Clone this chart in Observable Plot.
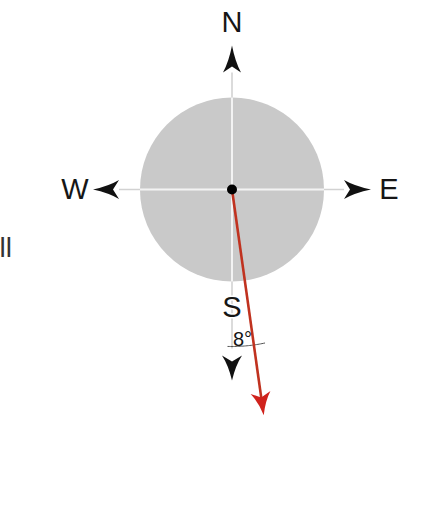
<!DOCTYPE html>
<html>
<head>
<meta charset="utf-8">
<script src="https://cdn.jsdelivr.net/npm/d3@7"></script>
<script src="https://cdn.jsdelivr.net/npm/@observablehq/plot@0.6"></script>
<style>
  html, body { margin: 0; padding: 0; background: #ffffff; }
  #chart svg { display: block; }
</style>
</head>
<body>
<div id="chart"></div>
<script>
// ---- data ----
const directions = ["N", "E", "S", "W"];
const bearings = [0, 90, 180, 270];          // compass bearings (deg)
const deviation = 8;                          // vector deviation east of south (deg)
const deviationLabel = "8°";
const sideNote = "ll";

// ---- layout (code, not data) ----
const W = 428, H = 527;
const R = 92;                                  // disc radius
const labelDist = {N: 167, E: 157, S: 118, W: 157};
const tipDist   = {N: 144, E: 139, S: 191, W: 139};
const dartDims  = {N: [27, 9, 6], E: [27, 9.5, 6], S: [25, 10, 6], W: [26, 9.5, 6]};
const lineEnd   = {N: 117, E: 112, S: 159, W: 113};
const vecBearing = 180 - deviation;
const vecLen = 228;
const rad = Math.PI / 180;
const polar = (b, d) => ({x: d * Math.sin(b * rad), y: d * Math.cos(b * rad)});

function dart(angle, L, w, n) {
  const a = angle * rad, c = Math.cos(a), s = Math.sin(a);
  const rot = ([x, y]) => [x * c - y * s, x * s + y * c];
  return {
    draw(ctx) {
      const P = [[0, 0], [w * 0.35, L * 0.6], [w, L], [0, L - n], [-w, L], [-w * 0.35, L * 0.6]].map(rot);
      ctx.moveTo(...P[0]);
      ctx.quadraticCurveTo(...P[1], ...P[2]);
      ctx.lineTo(...P[3]);
      ctx.lineTo(...P[4]);
      ctx.quadraticCurveTo(...P[5], ...P[0]);
      ctx.closePath();
    }
  };
}

const dirs = directions.map((d, i) => ({dir: d, bearing: bearings[i]}));
const outerLines = dirs.map(d => ({...d, a: polar(d.bearing, 0), b: polar(d.bearing, lineEnd[d.dir])}));
const innerLines = dirs.map(d => ({...d, a: polar(d.bearing, 0), b: polar(d.bearing, R)}));
const labels = dirs.map(d => ({text: d.dir, ...polar(d.bearing, labelDist[d.dir])}));
const arc = d3.range(181.5, 167.5, -0.5).map(b => polar(b, 157));
const vecTip = polar(vecBearing, vecLen);
const vecShaftEnd = polar(vecBearing, vecLen - 14);
const center = [{x: 0, y: 0}];

const font = "'Liberation Sans', Arial, sans-serif";

const marks = [
  Plot.dot(center, {x: "x", y: "y", r: R, fill: "#c9c9c9", stroke: "none"}),
  Plot.link(outerLines, {x1: d => d.a.x, y1: d => d.a.y, x2: d => d.b.x, y2: d => d.b.y, stroke: "#d2d2d2", strokeWidth: 1.6}),
  Plot.link(innerLines, {x1: d => d.a.x, y1: d => d.a.y, x2: d => d.b.x, y2: d => d.b.y, stroke: "#f3f3f3", strokeWidth: 2}),
  Plot.line(arc, {x: "x", y: "y", stroke: "#555", strokeWidth: 1, curve: "linear"}),
  ...dirs.map(d => {
    const [L, w, n] = dartDims[d.dir];
    return Plot.dot([polar(d.bearing, tipDist[d.dir])], {x: "x", y: "y", symbol: dart(d.bearing, L, w, n), fill: "#111", stroke: "none"});
  }),
  Plot.link([{a: center[0], b: vecShaftEnd}], {x1: d => d.a.x, y1: d => d.a.y, x2: d => d.b.x, y2: d => d.b.y, stroke: "#c0321f", strokeWidth: 2.6}),
  Plot.dot([vecTip], {x: "x", y: "y", symbol: dart(vecBearing, 23, 10, 5), fill: "#d0221c", stroke: "none"}),
  Plot.dot(center, {x: "x", y: "y", r: 5, fill: "#000", stroke: "none"}),
  Plot.text(labels, {x: "x", y: "y", text: "text", fontSize: 29, fontFamily: font, fill: "#161616", stroke: "white", strokeWidth: 3, textAnchor: "middle", lineAnchor: "middle"}),
  Plot.text([{...polar(180 - deviation / 2, 150), t: deviationLabel}], {x: "x", y: "y", text: "t", fontSize: 20, fontFamily: font, fill: "#161616", textAnchor: "middle", lineAnchor: "middle"}),
  Plot.text([sideNote], {frameAnchor: "left", dx: -1, dy: -16, text: d => d, fontSize: 28, fontFamily: font, fill: "#333", textAnchor: "start", lineAnchor: "middle"})
];

const chart = Plot.plot({
  width: W,
  height: H,
  margin: 0,
  x: {domain: [-231.5, W - 231.5], range: [0, W], axis: null},
  y: {domain: [189 - H, 189], range: [H, 0], axis: null},
  style: {background: "#ffffff"},
  marks
});
document.getElementById("chart").appendChild(chart);
</script>
</body>
</html>
